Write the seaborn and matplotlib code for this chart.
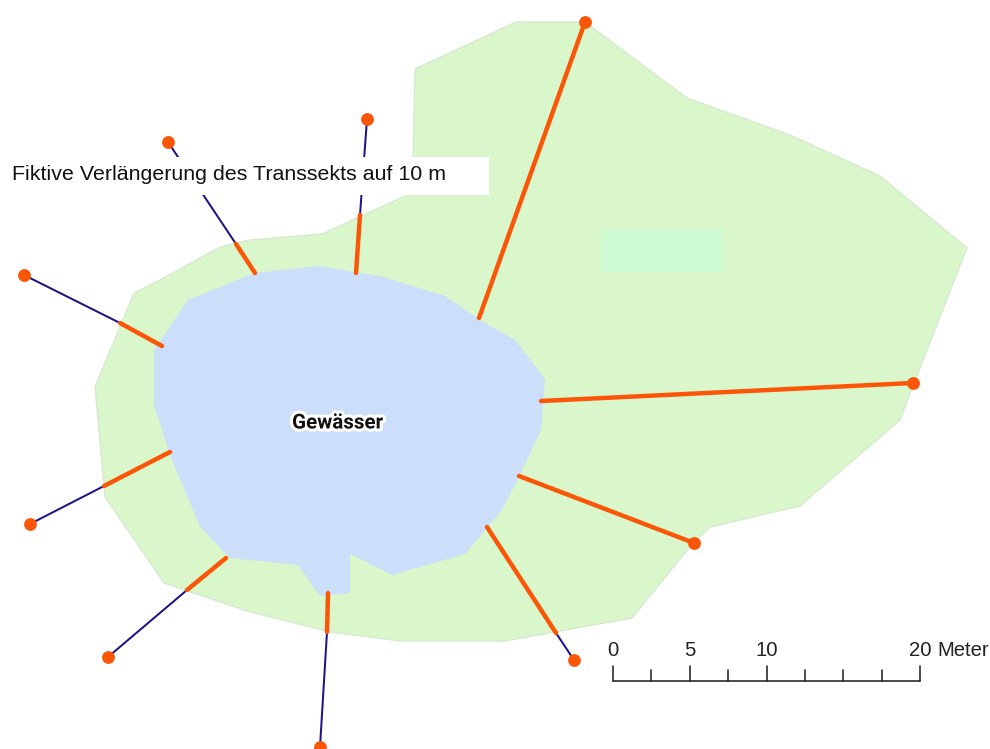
import matplotlib
matplotlib.use("Agg")
import matplotlib.pyplot as plt
import matplotlib.patheffects as pe
from matplotlib.patches import Rectangle
import pandas as pd
import seaborn as sns

sns.set_theme(style="white")
plt.rcParams["font.family"] = ["Liberation Sans", "DejaVu Sans"]

green_x = [415, 516, 585, 687, 790, 880, 967, 914, 900, 800, 710, 693, 632, 505, 400, 330, 250, 164, 105, 95, 134, 160, 220, 250, 322, 407, 413]
green_y = [69, 22, 22, 98, 135, 176, 248, 383, 420, 506, 527, 543, 618, 641, 641, 632, 612, 583, 497, 387, 293, 280, 247, 240, 234, 195, 157]
lake_x = [188, 255, 318, 380, 445, 480, 515, 545, 541, 520, 502, 465, 392, 350, 350, 320, 298, 230, 200, 170, 154, 154]
lake_y = [300, 273, 266, 276, 296, 320, 340, 379, 430, 475, 510, 554, 575, 554, 593, 596, 565, 558, 527, 455, 405, 350]
patch_x = [601, 723]
patch_y = [230, 272]

shore_x = [255, 356, 479, 541, 519, 487, 328, 226, 170, 162]
shore_y = [273, 273, 318, 401, 476, 527, 593, 558, 452, 346]
land_x = [236, 360, 585, 913, 694, 556, 327, 187, 104, 120]
land_y = [244, 215, 22, 383, 543, 633, 632, 590, 486, 323]
end_x = [168, 367, 585, 913, 694, 574, 320, 108, 30, 24]
end_y = [142, 119, 22, 383, 543, 660, 747, 657, 524, 275]

scale_labels = ["0", "5", "10", "20"]
scale_values = [0, 5, 10, 20]
scale_ticks = [0, 2.5, 5, 7.5, 10, 12.5, 15, 17.5, 20]

GREEN, LAKE, ORANGE, NAVY = "#d9f7ca", "#cbdefa", "#fb5607", "#1c1488"
PX_PER_M = (920 - 613) / 20

fig = plt.figure(figsize=(9.90, 7.49), dpi=100)
ax = fig.add_axes([0, 0, 1, 1])

ax.fill(green_x, green_y, facecolor=GREEN, edgecolor="#d7ead0", lw=1, zorder=1)
ax.add_patch(Rectangle((patch_x[0], patch_y[0]), patch_x[1] - patch_x[0], patch_y[1] - patch_y[0],
                       facecolor="#cdfad0", edgecolor="none", zorder=1.5))
ax.fill(lake_x, lake_y, facecolor=LAKE, edgecolor="none", zorder=2)

fict = pd.DataFrame({
    "x": [v for p in zip(land_x, end_x) for v in p],
    "y": [v for p in zip(land_y, end_y) for v in p],
    "t": [i for i in range(len(end_x)) for _ in (0, 1)],
})
real = pd.DataFrame({
    "x": [v for p in zip(shore_x, land_x) for v in p],
    "y": [v for p in zip(shore_y, land_y) for v in p],
    "t": [i for i in range(len(end_x)) for _ in (0, 1)],
})
sns.lineplot(data=fict, x="x", y="y", units="t", estimator=None, sort=False, color=NAVY,
             lw=1.45, ax=ax, zorder=3, legend=False)
ax.add_patch(Rectangle((3, 157), 486, 38, facecolor="white", edgecolor="none", zorder=4))
sns.lineplot(data=real, x="x", y="y", units="t", estimator=None, sort=False, color=ORANGE,
             lw=3.2, ax=ax, zorder=5, legend=False, solid_capstyle="round")
sns.scatterplot(x=end_x, y=end_y, color=ORANGE, s=85, linewidth=0, ax=ax, zorder=6, legend=False, clip_on=True)

ax.text(12, 174.5, "Fiktive Verlängerung des Transsekts auf 10 m", fontsize=15.4, color="#111111",
        va="center", ha="left", zorder=7)
ax.text(337.5, 423, "Gewässer", fontsize=14.8, fontweight="bold", family="Roboto", color="#111111",
        va="center", ha="center", zorder=7,
        path_effects=[pe.withStroke(linewidth=4.5, foreground="white")])

# Scale bar
bar_y, x0 = 680.5, 613
ax.plot([x0, x0 + 20 * PX_PER_M], [bar_y, bar_y], color="#222222", lw=1.15, zorder=7)
for t in scale_ticks:
    top = 666 if t in scale_values else 670
    ax.plot([x0 + t * PX_PER_M] * 2, [bar_y, top], color="#222222", lw=1.15, zorder=7)
for lab, v in zip(scale_labels, scale_values):
    ax.text(x0 + v * PX_PER_M, 650.5, lab, fontsize=14.6, color="#222222", ha="center", va="center", zorder=7)
ax.text(937, 650.5, "Meter", fontsize=14.6, color="#222222", ha="left", va="center", zorder=7)

ax.set_xlim(0, 990)
ax.set_ylim(749, 0)
ax.axis("off")
fig.savefig("out.png", dpi=100, facecolor="white")
